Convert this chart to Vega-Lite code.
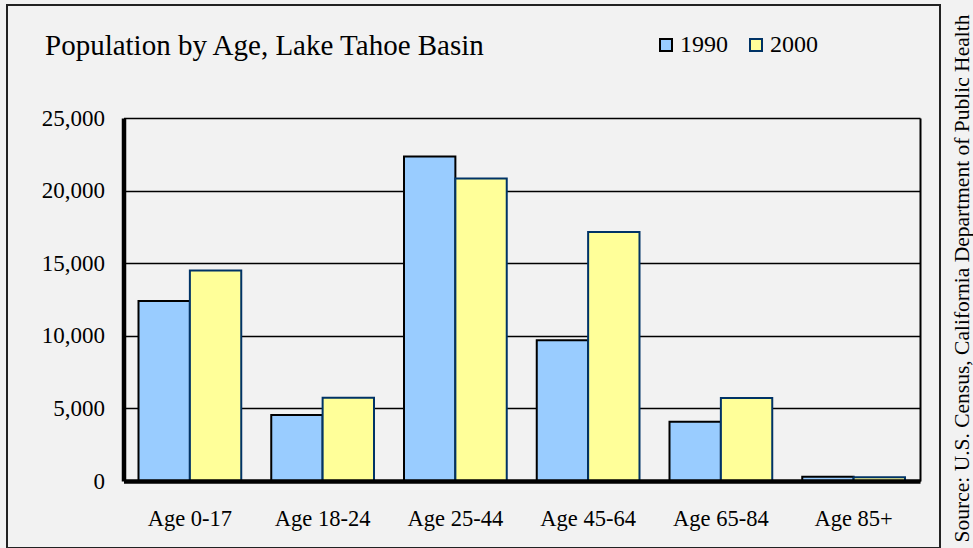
{
  "$schema": "https://vega.github.io/schema/vega-lite/v6.json",
  "autosize": {"type": "none"},
  "padding": {"left": 7, "top": 5, "right": 33, "bottom": 0},
  "width": 933,
  "height": 543,
  "background": "#F2F2F2",
  "title": {
    "text": "Population by Age, Lake Tahoe Basin",
    "anchor": "start",
    "frame": "group",
    "orient": "top",
    "offset": 0,
    "baseline": "alphabetic",
    "dx": 38,
    "dy": 79,
    "font": "Liberation Serif",
    "fontSize": 29,
    "fontWeight": "normal",
    "color": "#000000"
  },
  "data": {
    "values": [
      {"age": "Age 0-17", "year": "1990", "pop": 12400},
      {"age": "Age 0-17", "year": "2000", "pop": 14500},
      {"age": "Age 18-24", "year": "1990", "pop": 4540},
      {"age": "Age 18-24", "year": "2000", "pop": 5730},
      {"age": "Age 25-44", "year": "1990", "pop": 22350},
      {"age": "Age 25-44", "year": "2000", "pop": 20840},
      {"age": "Age 45-64", "year": "1990", "pop": 9700},
      {"age": "Age 45-64", "year": "2000", "pop": 17150},
      {"age": "Age 65-84", "year": "1990", "pop": 4080},
      {"age": "Age 65-84", "year": "2000", "pop": 5710},
      {"age": "Age 85+", "year": "1990", "pop": 300},
      {"age": "Age 85+", "year": "2000", "pop": 260}
    ]
  },
  "layer": [
    {
      "mark": {"type": "bar", "strokeWidth": 2},
      "encoding": {
        "x": {
          "field": "age",
          "type": "nominal",
          "sort": null,
          "scale": {"range": [116.5, 913], "paddingInner": 0.226, "paddingOuter": 0.113},
          "axis": {
            "title": null,
            "orient": "bottom",
            "offset": -67,
            "labelAngle": 0,
            "labelFont": "Liberation Serif",
            "labelFontSize": 22.5,
            "labelColor": "#000000",
            "labelBaseline": "alphabetic",
            "labelPadding": 44,
            "ticks": false,
            "tickSize": 0,
            "grid": false,
            "domainColor": "#000000",
            "domainWidth": 4.5,
            "zindex": 1
          }
        },
        "xOffset": {"field": "year", "type": "nominal", "scale": {"paddingInner": 0, "paddingOuter": 0}},
        "y": {
          "field": "pop",
          "type": "quantitative",
          "scale": {"domain": [0, 25000], "range": [476, 113], "nice": false, "zero": true},
          "axis": {
            "title": null,
            "orient": "left",
            "offset": -116.5,
            "values": [0, 5000, 10000, 15000, 20000, 25000],
            "format": ",.0f",
            "labelFont": "Liberation Serif",
            "labelFontSize": 23,
            "labelColor": "#000000",
            "labelPadding": 19,
            "ticks": false,
            "tickSize": 0,
            "grid": true,
            "gridColor": "#000000",
            "gridWidth": 1.6,
            "gridOpacity": 1,
            "domainColor": "#000000",
            "domainWidth": 4.5
          }
        },
        "fill": {
          "field": "year",
          "type": "nominal",
          "scale": {"domain": ["1990", "2000"], "range": ["#99CCFF", "#FFFF99"]},
          "legend": {"title": null}
        },
        "stroke": {
          "field": "year",
          "type": "nominal",
          "scale": {"domain": ["1990", "2000"], "range": ["#000000", "#003366"]},
          "legend": {"title": null}
        }
      }
    },
    {
      "mark": {"type": "rule", "opacity": 0},
      "encoding": {
        "y": {
          "field": "pop",
          "type": "quantitative",
          "scale": {"domain": [0, 25000], "range": [476, 113], "nice": false, "zero": true},
          "axis": {
            "orient": "right",
            "offset": -20,
            "labels": false,
            "ticks": false,
            "grid": false,
            "domainColor": "#000000",
            "domainWidth": 2,
            "title": "Source: U.S. Census, California Department of Public Health",
            "titleFont": "Liberation Serif",
            "titleFontSize": 21.5,
            "titleFontWeight": "normal",
            "titleColor": "#000000",
            "titleAngle": 270,
            "titleAlign": "center",
            "titleBaseline": "middle",
            "titleX": 42,
            "titleY": 273
          }
        }
      }
    }
  ],
  "resolve": {"axis": {"y": "independent"}},
  "config": {
    "view": {"stroke": "#222222", "strokeWidth": 2, "fill": "#F2F2F2"},
    "legend": {
      "orient": "none",
      "legendX": 647,
      "legendY": 28,
      "direction": "horizontal",
      "symbolType": "square",
      "symbolSize": 144,
      "symbolStrokeWidth": 2,
      "labelFont": "Liberation Serif",
      "labelFontSize": 24,
      "labelColor": "#000000",
      "labelOffset": 2,
      "columnPadding": 16,
      "padding": 0
    }
  }
}
